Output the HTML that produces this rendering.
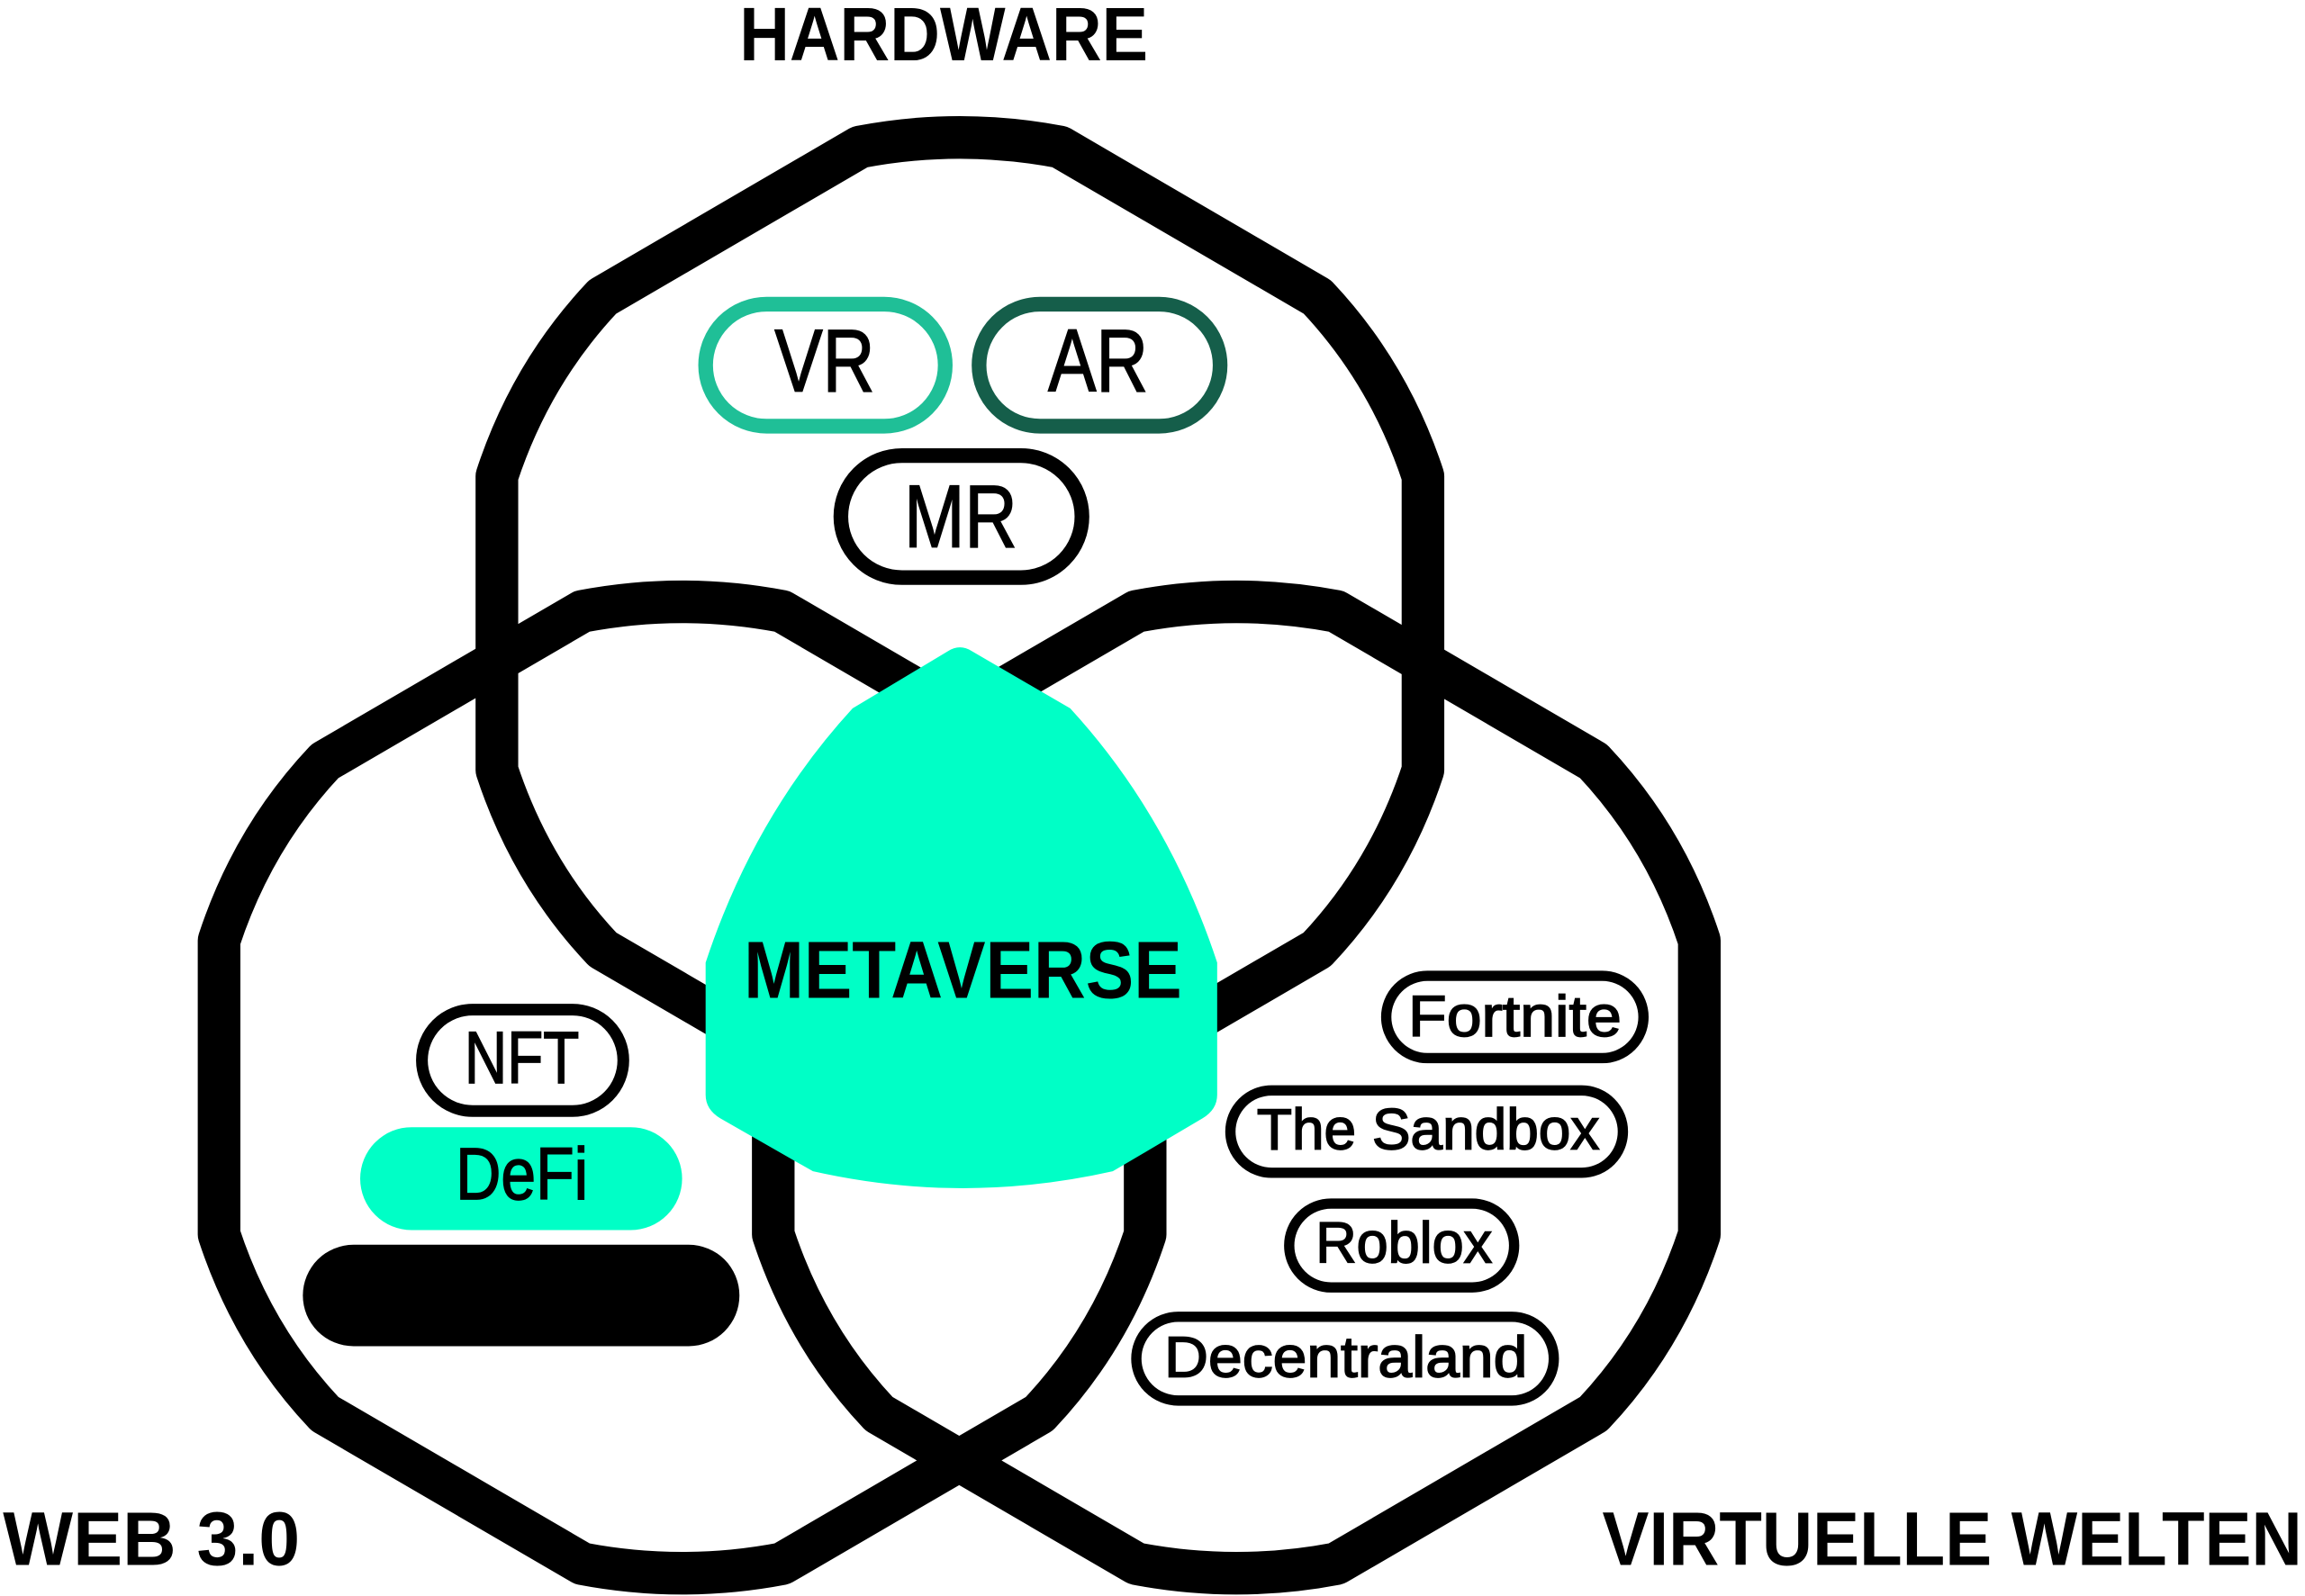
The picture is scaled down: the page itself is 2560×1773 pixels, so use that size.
<!DOCTYPE html>
<html><head><meta charset="utf-8"><style>html,body{margin:0;padding:0;background:#fff}svg{display:block}</style></head>
<body>
<svg width="2560" height="1773" viewBox="0 0 1568 1086" xmlns="http://www.w3.org/2000/svg">
<defs>
<path id="oct" d="M -68,-324 Q 0,-337 68,-324 L 243,-222 Q 292,-170 315,-100 L 315,100 Q 292,170 243,222 L 68,324 Q 0,337 -68,324 L -243,222 Q -292,170 -315,100 L -315,-100 Q -292,-170 -243,-222 Z" fill="none" stroke="#000" stroke-width="29" stroke-linejoin="round"/>
</defs>
<use href="#oct" transform="translate(653,424)"/>
<use href="#oct" transform="translate(464,740)"/>
<use href="#oct" transform="translate(841,740)"/>
<path d="M 645,443 Q 653,438 661,443 L 728,482 Q 795,555 828,655 L 828,745 Q 828,755 818,761 L 757,797 Q 655,820 553,797 L 490,761 Q 480,755 480,745 L 480,655 Q 513,555 580,482 Z" fill="#00ffc6"/>
<g font-family="'Liberation Sans', sans-serif" font-weight="bold" fill="#000">
<text x="503" y="41" font-size="52" textLength="278" lengthAdjust="spacingAndGlyphs">HARDWARE</text>
<text x="2" y="1065" font-size="52" textLength="202" lengthAdjust="spacingAndGlyphs">WEB 3.0</text>
<text x="1090" y="1065" font-size="52" textLength="476" lengthAdjust="spacingAndGlyphs">VIRTUELLE WELTEN</text>
<text x="506" y="679" font-size="55" textLength="298" lengthAdjust="spacingAndGlyphs">METAVERSE</text>
</g>
<g fill="none" stroke-width="10">
<rect x="480" y="207" width="163" height="83" rx="41.5" stroke="#1fbf97"/>
<rect x="666" y="207" width="164" height="83" rx="41.5" stroke="#155e4a"/>
<rect x="572" y="310" width="164" height="83" rx="41.5" stroke="#000"/>
<rect x="287" y="687" width="137" height="69" rx="34.5" stroke="#000" stroke-width="8"/>
<rect x="943" y="664" width="175" height="56" rx="28" stroke="#000" stroke-width="7"/>
<rect x="837" y="742" width="267" height="56" rx="28" stroke="#000" stroke-width="7"/>
<rect x="877" y="819" width="153" height="57" rx="28.5" stroke="#000" stroke-width="7"/>
<rect x="773" y="896" width="284" height="57" rx="28.5" stroke="#000" stroke-width="7"/>
</g>
<rect x="245" y="767" width="219" height="70" rx="35" fill="#00ffc6"/>
<rect x="206" y="847" width="297" height="69" rx="34.5" fill="#000"/>
<g font-family="'Liberation Sans', sans-serif" fill="#000" stroke="#000" stroke-width="1">
<text x="527" y="266" font-size="60" textLength="68" lengthAdjust="spacingAndGlyphs">VR</text>
<text x="713" y="266" font-size="60" textLength="68" lengthAdjust="spacingAndGlyphs">AR</text>
<text x="615" y="372" font-size="60" textLength="77" lengthAdjust="spacingAndGlyphs">MR</text>
<text x="316" y="737" font-size="50" textLength="78" lengthAdjust="spacingAndGlyphs">NFT</text>
<text x="310" y="816" font-size="50" textLength="90" lengthAdjust="spacingAndGlyphs">DeFi</text>
<text x="958" y="705" font-size="39" textLength="145" lengthAdjust="spacingAndGlyphs">Fortnite</text>
<text x="855" y="782" font-size="39" textLength="233" lengthAdjust="spacingAndGlyphs">The Sandbox</text>
<text x="895" y="859" font-size="39" textLength="120" lengthAdjust="spacingAndGlyphs">Roblox</text>
<text x="792" y="937" font-size="39" textLength="247" lengthAdjust="spacingAndGlyphs">Decentraland</text>
</g>
</svg>
</body></html>
